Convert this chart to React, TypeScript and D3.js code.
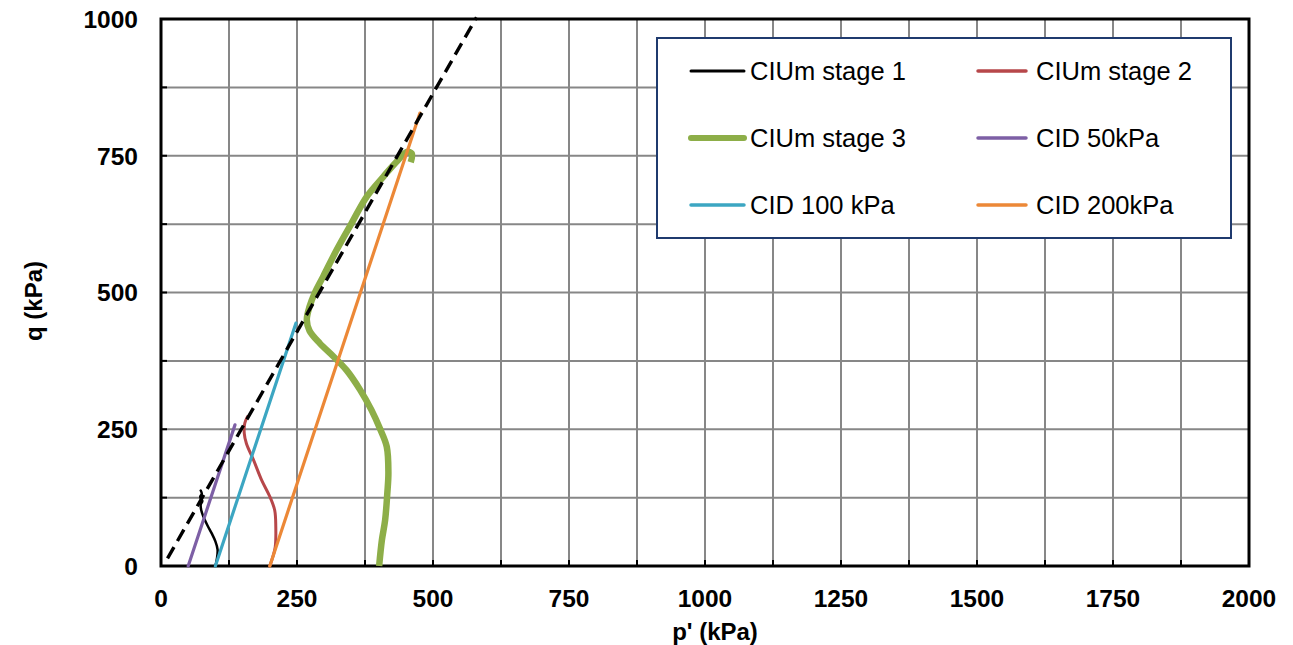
import React from "react";
import * as d3 from "d3";

// Stress paths in p'-q space (kPa)
const stage1: [number, number][] = [
  [100, 0], [103, 15], [104, 30], [100, 45], [93, 60], [85, 75], [78, 90],
  [74, 102], [73, 112], [76, 119], [72, 126], [75, 132], [73, 138],
];
const stage2: [number, number][] = [
  [200, 0], [206, 18], [210, 35], [211, 72], [209, 102], [200, 127], [185, 157],
  [170, 194], [157, 224], [153, 243], [154, 261], [159, 273],
];
const stage3: [number, number][] = [
  [401, 0], [406, 47], [412, 84], [416, 133], [418, 170], [415, 218], [403, 250],
  [387, 285], [366, 322], [341, 358], [317, 383], [292, 407], [273, 430],
  [268, 450], [273, 474], [283, 500], [298, 529], [323, 578], [350, 626],
  [378, 675], [409, 712], [433, 739], [452, 757], [461, 754], [459, 738],
];
const cid50: [number, number][] = [[50, 0], [136, 258]];
const cid100: [number, number][] = [[100, 0], [248, 444]];
const cid200: [number, number][] = [[200, 0], [476, 828]];
const envelope: [number, number][] = [[12, 14], [580, 1003]];

const xTicks = [0, 250, 500, 750, 1000, 1250, 1500, 1750, 2000];
const yTicks = [0, 250, 500, 750, 1000];
const gridStep = 125;

const seriesNames = ["CIUm stage 1", "CIUm stage 2", "CIUm stage 3", "CID 50kPa", "CID 100 kPa", "CID 200kPa"];
const seriesColors = ["#000000", "#B7474A", "#8DAE48", "#7D5FA5", "#3CA6C2", "#EC8837"];
const seriesWidths = [2.5, 3, 6.5, 3.2, 3.2, 3.2];
const legendWidths = [3, 3.5, 6, 3.5, 3.5, 3.5];

export default function App() {
  const W = 1293, H = 645;
  const left = 161, right = 1249, top = 19, bottom = 566;
  const x = d3.scaleLinear().domain([0, 2000]).range([left, right]);
  const y = d3.scaleLinear().domain([0, 1000]).range([bottom, top]);

  const smooth = d3.line<[number, number]>().x(d => x(d[0])).y(d => y(d[1])).curve(d3.curveCatmullRom.alpha(0.5));
  const straight = d3.line<[number, number]>().x(d => x(d[0])).y(d => y(d[1]));

  const data = [stage1, stage2, stage3, cid50, cid100, cid200];
  const gridX = d3.range(gridStep, 2000, gridStep);
  const gridY = d3.range(gridStep, 1000, gridStep);
  const tickX = d3.range(0, 2001, gridStep);
  const tickY = d3.range(0, 1001, gridStep);

  const font = "Liberation Sans, Arial, sans-serif";

  const legendRows = [71, 138, 205];
  const legendCols = [{ l0: 691, l1: 744, t: 750 }, { l0: 978, l1: 1026, t: 1036 }];

  return (
    <svg width={W} height={H} style={{ position: "absolute", left: 0, top: 0, background: "#fff" }} fontFamily={font}>
      <rect x={0} y={0} width={W} height={H} fill="#fff" />
      {gridX.map(v => (
        <line key={"gx" + v} x1={x(v)} x2={x(v)} y1={top} y2={bottom} stroke="#878787" strokeWidth={2} />
      ))}
      {gridY.map(v => (
        <line key={"gy" + v} x1={left} x2={right} y1={y(v)} y2={y(v)} stroke="#878787" strokeWidth={2} />
      ))}
      {tickX.map(v => (
        <line key={"tx" + v} x1={x(v)} x2={x(v)} y1={bottom} y2={bottom - 6} stroke="#000" strokeWidth={2} />
      ))}
      {tickY.map(v => (
        <line key={"ty" + v} x1={left} x2={left + 6} y1={y(v)} y2={y(v)} stroke="#000" strokeWidth={2} />
      ))}
      <rect x={left} y={top} width={right - left} height={bottom - top} fill="none" stroke="#000" strokeWidth={3} />

      {data.map((d, i) => (
        <path
          key={"s" + i}
          d={(d.length > 2 ? smooth(d) : straight(d)) || ""}
          fill="none"
          stroke={seriesColors[i]}
          strokeWidth={seriesWidths[i]}
          strokeLinejoin="round"
          strokeLinecap={i === 2 ? "butt" : "round"}
        />
      ))}
      <path d={straight(envelope) || ""} fill="none" stroke="#000" strokeWidth={3.4} strokeDasharray="13,7" />

      {xTicks.map(v => (
        <text key={"lx" + v} x={x(v)} y={607} textAnchor="middle" fontSize={24.5} fontWeight="bold" fill="#000">{v}</text>
      ))}
      {yTicks.map(v => (
        <text key={"ly" + v} x={138} y={y(v)} dy="0.36em" textAnchor="end" fontSize={24.5} fontWeight="bold" fill="#000">{v}</text>
      ))}
      <text x={715} y={640} textAnchor="middle" fontSize={24} fontWeight="bold">p' (kPa)</text>
      <text transform={`translate(42,301) rotate(-90)`} textAnchor="middle" fontSize={24} fontWeight="bold">q (kPa)</text>

      <rect x={657} y={38} width={574} height={200} fill="#fff" stroke="#1F3A6E" strokeWidth={2} />
      {seriesNames.map((name, i) => {
        const col = legendCols[i % 2];
        const ry = legendRows[Math.floor(i / 2)];
        return (
          <g key={"lg" + i}>
            <line x1={col.l0} x2={col.l1} y1={ry} y2={ry} stroke={seriesColors[i]} strokeWidth={legendWidths[i]} strokeLinecap="round" />
            <text x={col.t} y={ry} dy="0.36em" fontSize={25.5} fill="#000">{name}</text>
          </g>
        );
      })}
    </svg>
  );
}
